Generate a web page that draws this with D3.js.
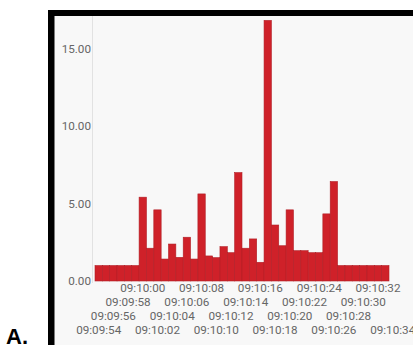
<!DOCTYPE html>
<html>
<head>
<meta charset="utf-8">
<script src="https://cdn.jsdelivr.net/npm/d3@7"></script>
<style>
body{margin:0;background:#fff;}
svg{display:block;}
text{font-family:Roboto,"Noto Sans",sans-serif;}
</style>
</head>
<body>
<svg id="chart" width="413" height="345"></svg>
<script>
// one bar per second
var times = ["09:09:54","09:09:55","09:09:56","09:09:57","09:09:58","09:09:59",
	"09:10:00","09:10:01","09:10:02","09:10:03","09:10:04","09:10:05","09:10:06","09:10:07",
	"09:10:08","09:10:09","09:10:10","09:10:11","09:10:12","09:10:13","09:10:14","09:10:15",
	"09:10:16","09:10:17","09:10:18","09:10:19","09:10:20","09:10:21","09:10:22","09:10:23",
	"09:10:24","09:10:25","09:10:26","09:10:27","09:10:28","09:10:29","09:10:30","09:10:31",
	"09:10:32","09:10:33"];
var values = [1.0,1.0,1.0,1.0,1.0,1.0,
	5.42,2.12,4.6,1.42,2.39,1.53,2.83,1.42,
	5.63,1.62,1.51,2.22,1.83,7.01,2.12,2.72,
	1.21,16.85,3.62,2.28,4.6,1.96,1.96,1.83,
	1.83,4.34,6.43,1.0,1.0,1.0,1.0,1.0,
	1.0,1.0];
// the last label sits past the final bar
var tickLabels = ["09:09:54","09:09:56","09:09:58","09:10:00","09:10:02","09:10:04",
	"09:10:06","09:10:08","09:10:10","09:10:12","09:10:14","09:10:16","09:10:18",
	"09:10:20","09:10:22","09:10:24","09:10:26","09:10:28","09:10:30","09:10:32","09:10:34"];
var yTicks = [0,5,10,15];

var svg = d3.select("#chart");

// panel + black frame
svg.append("rect").attr("x",54).attr("y",16).attr("width",359).attr("height",329).attr("fill","#f8f8f8");
svg.append("rect").attr("x",48).attr("y",10).attr("width",6.5).attr("height",335).attr("fill","#000");
svg.append("rect").attr("x",48).attr("y",10).attr("width",365).attr("height",6).attr("fill","#000");

var x = d3.scaleBand().domain(d3.range(times.length)).range([95,389]).padding(0);
var y = d3.scaleLinear().domain([0,15]).range([281,49]);
var step = x.bandwidth();

// left axis line
svg.append("line").attr("x1",92.5).attr("x2",92.5).attr("y1",16).attr("y2",283)
	.attr("stroke","#e2e2e2").attr("stroke-width",1);

svg.append("g").selectAll("rect")
	.data(values)
	.enter()
	.append("rect")
	.attr("x",(d,i)=>x(i))
	.attr("y",d=>y(d))
	.attr("width",step)
	.attr("height",d=>y(0)-y(d))
	.attr("fill","#cf2129")
	.attr("stroke","#b11f26")
	.attr("stroke-width",0.6);

// y labels
svg.append("g").selectAll("text")
	.data(yTicks)
	.enter()
	.append("text")
	.attr("x",91)
	.attr("y",d=>y(d))
	.attr("dy","0.35em")
	.attr("text-anchor","end")
	.attr("fill","#666")
	.style("font-size","11.7px")
	.text(d=>d3.format(".2f")(d));

// staggered x labels, 4 rows
var rowY = [288,302,316,330];
svg.append("g").selectAll("text")
	.data(tickLabels)
	.enter()
	.append("text")
	.attr("x",(d,k)=>95+step*(2*k+0.5))
	.attr("y",(d,k)=>rowY[3-(k%4)])
	.attr("dy","0.35em")
	.attr("text-anchor","middle")
	.attr("fill","#666")
	.style("font-size","11.7px")
	.text(d=>d);

svg.append("text").attr("x",6).attr("y",344)
	.attr("fill","#000").style("font-size","22px").style("font-weight","bold")
	.style("font-family","Arial,'Liberation Sans',sans-serif")
	.text("A.");
</script>
</body>
</html>
